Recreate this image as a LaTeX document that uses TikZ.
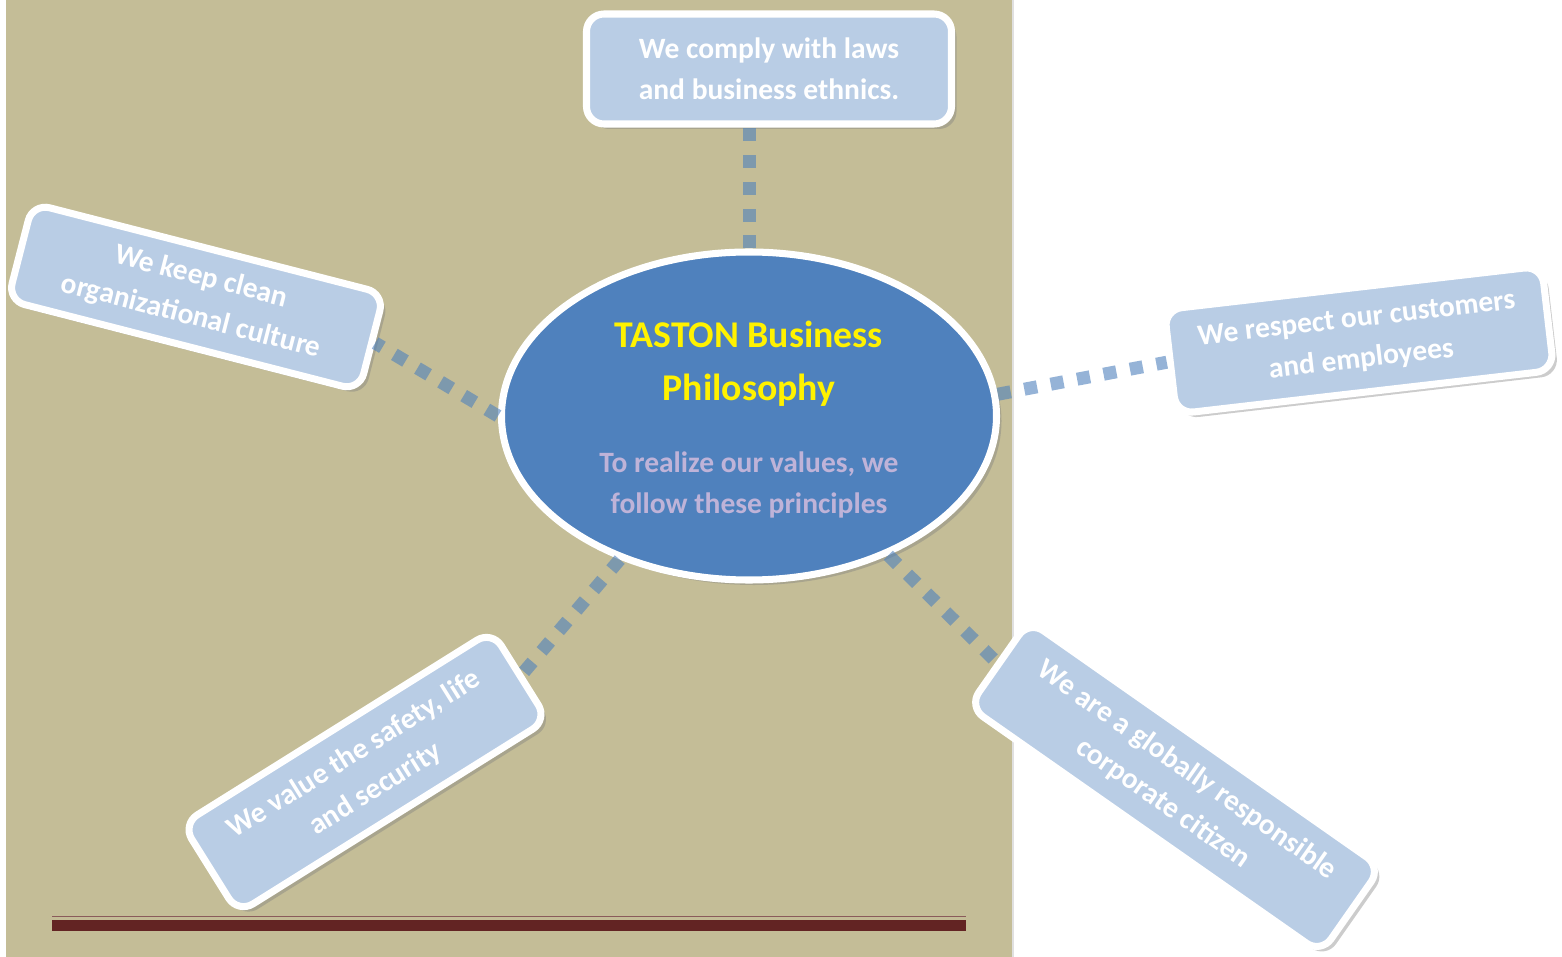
\documentclass[tikz,border=0pt]{standalone}
\usepackage{fontspec}
\setmainfont{Carlito}
\usetikzlibrary{shapes.geometric,shadows}
\definecolor{paper}{HTML}{C4BD97}
\definecolor{hubblue}{HTML}{4F81BD}
\definecolor{boxblue}{HTML}{B9CDE5}
\definecolor{mottocol}{HTML}{BFB3D8}
\definecolor{barred}{HTML}{632423}
\tikzset{
  hub/.style={ellipse, fill=hubblue, draw=white, line width=4pt,
    minimum width=99mm, minimum height=65.6mm, inner sep=0pt,
    drop shadow={shadow xshift=1mm, shadow yshift=-1mm, opacity=0.4}},
  value/.style={rectangle, rounded corners=3.5mm, fill=boxblue, draw=white,
    line width=4pt, text=white, align=center, inner sep=0pt,
    font=\bfseries\fontsize{16.8}{23.2}\selectfont,
    drop shadow={shadow xshift=1mm, shadow yshift=-1mm, opacity=0.4}},
  link/.style={draw=hubblue, draw opacity=0.6, line width=7.4pt,
    dash pattern=on 7.4pt off 7.9pt},
}
\begin{document}
\begin{tikzpicture}[x=0.2mm, y=-0.2mm]
      \useasboundingbox (0,0) rectangle (1562,957);
      % page
      \fill[paper] (6,0) rectangle (1012,957);
      \draw[black!12, line width=1pt] (1013,0) -- (1013,957);
      \fill[barred] (52,920) rectangle (966,931);
      \draw[barred!75, line width=1pt] (52,916.5) -- (966,916.5);
      % centre
      \node[hub] (hub) at (749,416) {};
      \node[text=yellow, align=center, font=\bfseries\fontsize{21.5}{30}\selectfont]
        (title) at (749,364) {TASTON Business\\Philosophy};
      \node[text=mottocol, align=center, font=\bfseries\fontsize{16.8}{23.2}\selectfont]
        (motto) at (749,485) {To realize our values, we\\follow these principles};
      % principles
      \node[value, minimum width=73mm, minimum height=22mm]
        (comply) at (769,69) {We comply with laws\\and business ethnics.};
      \node[value, minimum width=72.6mm, minimum height=20mm, rotate=-14.4]
        (culture) at (196,297) {We keep clean\\organizational culture};
      \node[value, minimum width=76mm, minimum height=21mm, rotate=6.6]
        (respect) at (1359,340) {We respect our customers\\and employees};
      \node[value, minimum width=73mm, minimum height=21mm, rotate=32]
        (safety) at (365,772) {We value the safety, life\\and security};
      \node[value, minimum width=86mm, minimum height=21mm, rotate=-35]
        (citizen) at (1175,787) {We are a globally responsible\\corporate citizen};
      \begin{scope}[link]
        \draw (hub.north) -- (hub.north |- comply.south);
        \draw (hub.west) -- (culture.east);
        \draw (hub.5) -- (respect.west);
        \draw (hub.228) -- (safety.east);
        \draw (hub.315) -- (citizen.west);
      \end{scope}
    \end{tikzpicture}
\end{document}
